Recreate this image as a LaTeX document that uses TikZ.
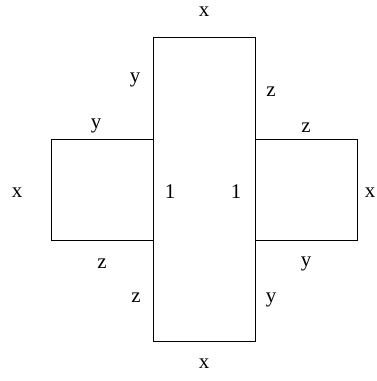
\documentclass[tikz,border=0pt]{standalone}
\usepackage{fontspec}
\setmainfont{Liberation Serif}
\begin{document}
\begin{tikzpicture}[x=1bp,y=-1bp,
  lbl/.style={anchor=base,inner sep=0pt,font=\fontsize{21}{21}\selectfont},
  edge/.style={draw=black,line width=1bp}]
\useasboundingbox (0,0) rectangle (377,381);
% shapes
\draw[edge] (153,37) rectangle (255,341);
\draw[edge] (51,139) rectangle (153,240);
\draw[edge] (255,139) rectangle (357,240);
% labels
\node[lbl] (xt) at (204,16) {x};
\node[lbl] (xb) at (204,368) {x};
\node[lbl] (xl) at (17,197) {x};
\node[lbl] (xr) at (370,197) {x};
\node[lbl] (one1) at (170,198) {1};
\node[lbl] (one2) at (236,198) {1};
\node[lbl] (yul) at (135,82) {y};
\node[lbl] (zur) at (271,96) {z};
\node[lbl] (yls) at (96,128) {y};
\node[lbl] (zrs) at (306,132) {z};
\node[lbl] (zls) at (102,268) {z};
\node[lbl] (yrs) at (306,266) {y};
\node[lbl] (zll) at (136,302) {z};
\node[lbl] (ylr) at (271,302) {y};
\end{tikzpicture}
\end{document}
